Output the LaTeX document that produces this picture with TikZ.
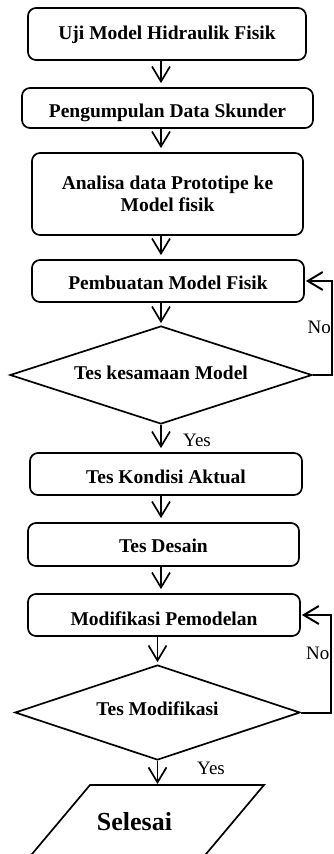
\documentclass[tikz,border=0pt]{standalone}
\usepackage{fontspec}
\setmainfont{Liberation Serif}
\usetikzlibrary{shapes.geometric,arrows.meta}
\tikzset{
  boxnode/.style={draw, line width=1.7pt, rounded corners=8pt, inner sep=0pt,
    font=\fontsize{19.5}{22}\selectfont\bfseries, align=center},
  decnode/.style={draw, diamond, line width=1.7pt, inner sep=0pt,
    font=\fontsize{19.5}{22}\selectfont\bfseries},
  arr/.style={line width=1.7pt, -{Straight Barb[length=15pt,width=18pt]}, shorten >=4pt},
  loopline/.style={line width=2pt, -{Straight Barb[length=15pt,width=18pt]}, shorten >=1pt},
  lbl/.style={font=\fontsize{19}{21}\selectfont, inner sep=0pt},
}
\begin{document}
\begin{tikzpicture}[x=1pt,y=-1pt]
\clip (0,0) rectangle (334,854);
\fill[white] (0,0) rectangle (334,854);
% process boxes
\node[boxnode, minimum width=278pt, minimum height=52pt, text height=12.9pt, text depth=2pt] (b1) at (167,34) {Uji Model Hidraulik Fisik};
\node[boxnode, minimum width=291pt, minimum height=40pt, text height=18.9pt, text depth=0pt] (b2) at (167.5,108) {Pengumpulan Data Skunder};
\node[boxnode, minimum width=271pt, minimum height=82pt] (b3) at (167.5,194) {Analisa data Prototipe ke\\Model fisik};
\node[boxnode, minimum width=272pt, minimum height=42pt, text height=17.9pt, text depth=0pt] (b4) at (168,281) {Pembuatan Model Fisik};
\node[decnode, aspect=3.08, minimum width=302pt, minimum height=98pt, text height=12.9pt, text depth=3pt] (d1) at (161,375) {Tes kesamaan Model};
\node[boxnode, minimum width=272pt, minimum height=42pt, text height=19.9pt, text depth=0pt] (b5) at (166,474) {Tes Kondisi Aktual};
\node[boxnode, minimum width=271pt, minimum height=43pt, text height=16.9pt, text depth=0pt] (b6) at (163.5,544.5) {Tes Desain};
\node[boxnode, minimum width=272pt, minimum height=42pt, text height=20.9pt, text depth=0pt] (b7) at (164,615) {Modifikasi Pemodelan};
\node[decnode, aspect=3.0, minimum width=285pt, minimum height=95pt, text height=12.9pt, text depth=6pt] (d2) at (157.5,712.5) {Tes Modifikasi};
% terminal parallelogram
\draw[line width=1.7pt] (90,785) -- (264,785) -- (180,885) -- (6,885) -- cycle;
\coordinate (ptop) at (157.5,785);
\node[font=\fontsize{26}{28}\selectfont\bfseries, inner sep=0pt, anchor=base] (sel) at (134.5,830) {Selesai};
% main flow
\draw[arr] (b1.south -| d1.north) -- (b2.north -| d1.north);
\draw[arr] (b2.south -| d1.north) -- (b3.north -| d1.north);
\draw[arr] (b3.south -| d1.north) -- (b4.north -| d1.north);
\draw[arr, shorten >=2pt] (b4.south -| d1.north) -- (d1.north);
\draw[arr] (d1.south) -- (b5.north -| d1.south);
\draw[arr] (b5.south -| d1.north) -- (b6.north -| d1.north);
\draw[arr] (b6.south -| d1.north) -- (b7.north -| d1.north);
\draw[arr, shorten >=2pt] (b7.south -| d2.north) -- (d2.north);
\draw[arr, shorten >=1pt] (d2.south) -- (ptop);
% feedback loops
\coordinate (r1) at (332,0);
\coordinate (r2) at (330.5,0);
\draw[loopline] (d1.east) -- (d1.east -| r1) -- (b4.east -| r1) -- (b4.east);
\draw[loopline] (d2.east) -- (d2.east -| r2) -- (b7.east -| r2) -- (b7.east);
% labels
\node[lbl, anchor=east] (no1) at (331,327) {No};
\node[lbl, anchor=east] (no2) at (329.5,653) {No};
\node[lbl, anchor=west] (yes1) at (183,440) {Yes};
\node[lbl, anchor=west] (yes2) at (197,768) {Yes};
\end{tikzpicture}
\end{document}
